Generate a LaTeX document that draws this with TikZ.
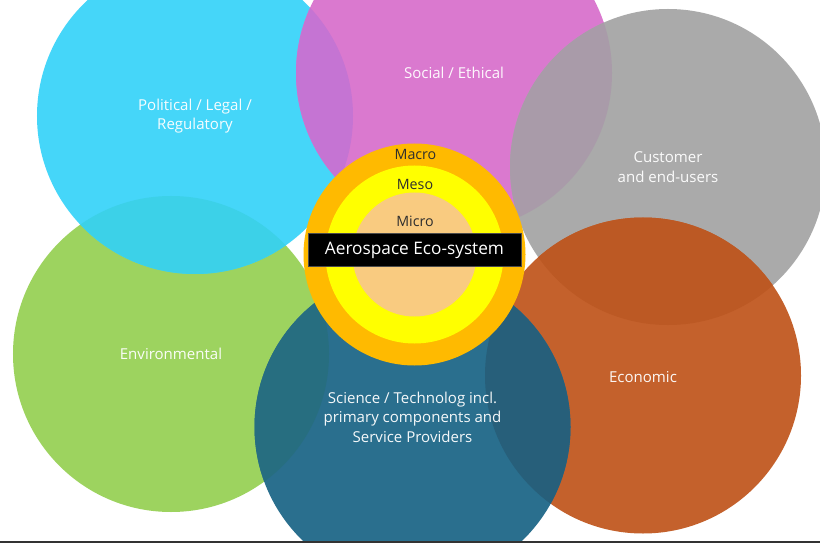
\documentclass[tikz,border=0pt]{standalone}
\usepackage{fontspec}
\setmainfont{Open Sans}
\definecolor{polCyan}{HTML}{45D6F9}
\definecolor{socPink}{HTML}{DA79CF}
\definecolor{custGray}{HTML}{AAAAAA}
\definecolor{envGreen}{HTML}{9DD35F}
\definecolor{sciBlue}{HTML}{2A6F8E}
\definecolor{ecoOrange}{HTML}{C4612C}
\definecolor{polEnv}{HTML}{3CD1E8}
\definecolor{polSoc}{HTML}{C574D3}
\definecolor{socCust}{HTML}{A99BA9}
\definecolor{custEco}{HTML}{BC5924}
\definecolor{ecoSci}{HTML}{275F7A}
\definecolor{envSci}{HTML}{276E80}
\definecolor{macroOrange}{HTML}{FFBA00}
\definecolor{mesoYellow}{HTML}{FFFF00}
\definecolor{microPeach}{HTML}{F9CB80}
\definecolor{ringText}{HTML}{2E2E2E}
\newcommand{\rad}{158}
\begin{document}
\begin{tikzpicture}[x=1bp,y=-1bp,
  every node/.style={inner sep=0pt,outer sep=0pt},
  sphere/.style={circle,minimum size=316bp},
  ring/.style={circle,minimum size=#1},
  lbl/.style={text=white,text opacity=0.95,align=center,font=\fontsize{15.1}{19.5}\selectfont},
  ringlbl/.style={text=ringText,font=\fontsize{14.3}{17}\selectfont}]
\useasboundingbox (0,0) rectangle (820,543);
\clip (0,0) rectangle (820,543);
\fill[white] (0,0) rectangle (820,543);
% the six spheres, back to front
\node[sphere,fill=envGreen] (env) at (171,354) {};
\node[sphere,fill=polCyan] (pol) at (195,116) {};
\node[sphere,fill=socPink] (soc) at (454,73) {};
\node[sphere,fill=custGray] (cust) at (668,167) {};
\node[sphere,fill=ecoOrange] (econ) at (643,375.5) {};
\node[sphere,fill=sciBlue] (sci) at (412.5,427) {};
% overlaps
\begin{scope}
\clip (env.center) circle (\rad);
\fill[polEnv] (pol.center) circle (\rad);
\end{scope}
\begin{scope}
\clip (pol.center) circle (\rad);
\fill[polSoc] (soc.center) circle (\rad);
\end{scope}
\begin{scope}
\clip (soc.center) circle (\rad);
\fill[socCust] (cust.center) circle (\rad);
\end{scope}
\begin{scope}
\clip (cust.center) circle (\rad);
\fill[custEco] (econ.center) circle (\rad);
\end{scope}
\begin{scope}
\clip (econ.center) circle (\rad);
\fill[ecoSci] (sci.center) circle (\rad);
\end{scope}
\begin{scope}
\clip (env.center) circle (\rad);
\fill[envSci] (sci.center) circle (\rad);
\end{scope}
% labels
\node[lbl] (polLbl) at (pol.center) {Political / Legal /\\Regulatory};
\node[lbl] (socLbl) at (soc.center) {Social / Ethical};
\node[lbl] (custLbl) at (cust.center) {Customer\\and end-users};
\node[lbl] (envLbl) at (env.center) {Environmental};
\node[lbl] (econLbl) at ([yshift=-1.5bp]econ.center) {Economic};
\node[lbl] (sciLbl) at ([yshift=10bp]sci.center) {Science / Technolog incl.\\primary components and\\Service Providers};
% eco-system rings
\node[ring=222bp,fill=macroOrange] (macro) at (414.5,254.5) {};
\node[ring=178bp,fill=mesoYellow] (meso) at (macro.center) {};
\node[ring=124bp,fill=microPeach] (micro) at (macro.center) {};
\node[ringlbl] (macroLbl) at (415.5,154) {Macro};
\node[ringlbl] (mesoLbl) at (415,184) {Meso};
\node[ringlbl] (microLbl) at (415,221) {Micro};
\node[fill=black,draw=black!70,line width=1bp,minimum width=213bp,minimum height=33bp,
  text=white,font=\fontsize{17.3}{20}\selectfont] (ecoBox) at (414.5,250.5) {Aerospace Eco-system};
% bottom edge
\draw[line width=2.5bp,black!80] (0,542) -- (820,542);
\end{tikzpicture}
\end{document}
